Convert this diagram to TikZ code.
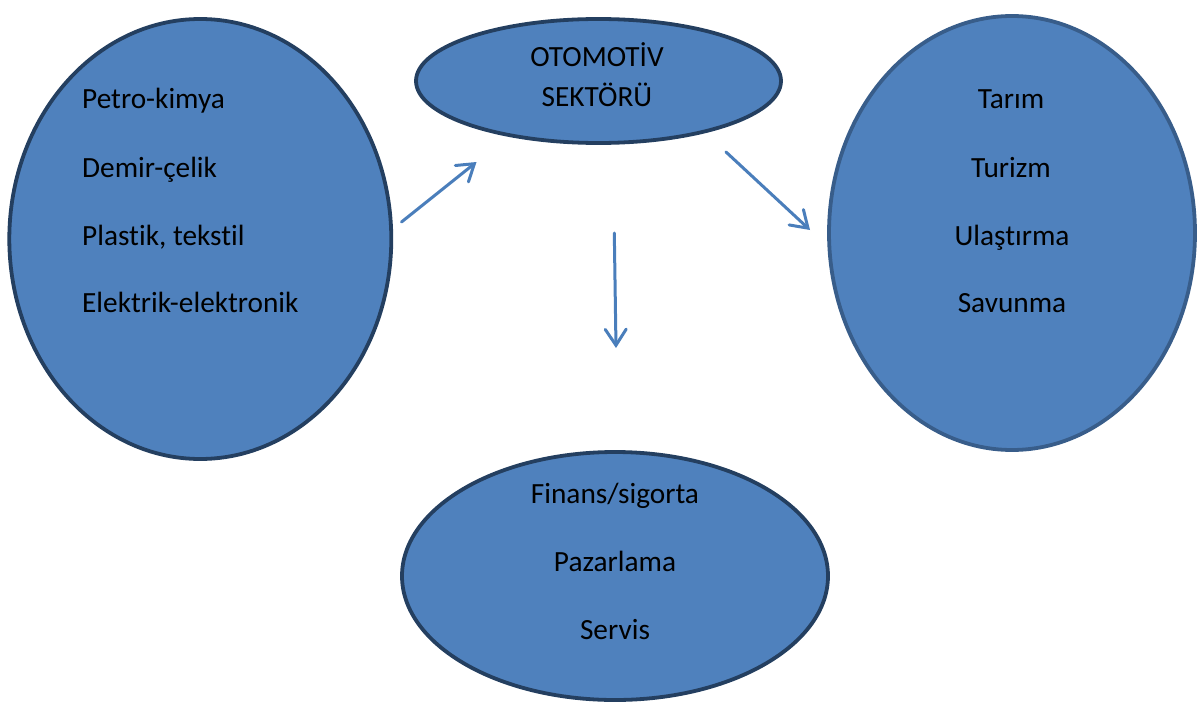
\documentclass[tikz,border=0pt]{standalone}
\usepackage{fontspec}
\setmainfont{Carlito}[Ligatures=NoCommon]
\usetikzlibrary{shapes.geometric,arrows.meta}
\definecolor{bubblefill}{HTML}{4F81BD}
\definecolor{bubbleedge}{HTML}{243F60}
\definecolor{bubbleedgelight}{HTML}{385D8A}
\definecolor{arrowblue}{HTML}{4A7EBB}
\tikzset{
  bubble/.style={ellipse, draw=bubbleedge, fill=bubblefill, line width=3.8pt, inner sep=0pt},
  label/.style={font=\fontsize{29.3}{34}\selectfont, text=black, inner sep=0pt},
  flow/.style={draw=arrowblue, line width=3pt, line cap=round,
    -{Straight Barb[length=16pt, width=21pt, line cap=round]}}
}
\begin{document}
\begin{tikzpicture}[x=1pt, y=-1pt]
\useasboundingbox (0,0) rectangle (1204,706);

% the four sector bubbles
\node[bubble, minimum width=382pt, minimum height=440pt] (supply) at (200.3,239) {};
\node[bubble, minimum width=365pt, minimum height=124pt] (auto) at (598.5,81) {};
\node[bubble, draw=bubbleedgelight, minimum width=366pt, minimum height=434pt] (users) at (1012,233) {};
\node[bubble, minimum width=426pt, minimum height=248pt] (services) at (615,576) {};

% supplier industries
\node[label, anchor=base west] (s1) at (82,109) {Petro-kimya};
\node[label, anchor=base west] (s2) at (82,177) {Demir-çelik};
\node[label, anchor=base west] (s3) at (82,245) {Plastik, tekstil};
\node[label, anchor=base west] (s4) at (82,312) {Elektrik-elektronik};

% automotive sector
\node[label, anchor=base] (a1) at (597,67) {OTOMOTİV};
\node[label, anchor=base] (a2) at (597,107) {SEKTÖRÜ};

% user sectors
\node[label, anchor=base] (u1) at (1011,109) {Tarım};
\node[label, anchor=base] (u2) at (1011,177) {Turizm};
\node[label, anchor=base] (u3) at (1012,245) {Ulaştırma};
\node[label, anchor=base] (u4) at (1012,312) {Savunma};

% service sectors
\node[label, anchor=base] (v1) at (615,503) {Finans/sigorta};
\node[label, anchor=base] (v2) at (615,571) {Pazarlama};
\node[label, anchor=base] (v3) at (615,639) {Servis};

% arrow ends
\coordinate (inS) at (401.5,222);
\coordinate (inE) at (476.5,162);
\coordinate (downS) at (614.3,233);
\coordinate (downE) at (616,348);
\coordinate (outS) at (726,152);
\coordinate (outE) at (810,230);

\draw[flow] (inS) -- (inE);
\draw[flow] (downS) -- (downE);
\draw[flow] (outS) -- (outE);
\end{tikzpicture}
\end{document}
